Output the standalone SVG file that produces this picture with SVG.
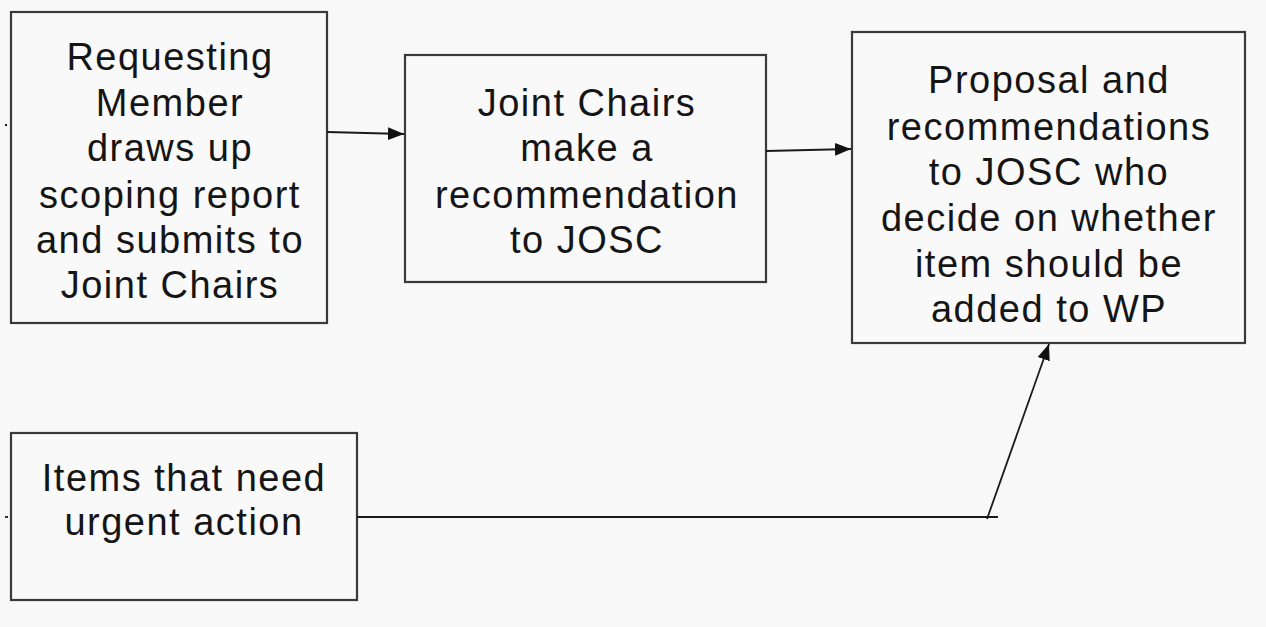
<svg xmlns="http://www.w3.org/2000/svg" width="1266" height="627" viewBox="0 0 1266 627">
<style>
.box{fill:#f9f9f9;stroke:#3a3a3a;stroke-width:2.2}
.t{font-family:"Liberation Sans",Arial,sans-serif;font-size:38px;letter-spacing:1.5px;fill:#151515;text-anchor:middle}
.c{stroke:#1a1a1a;stroke-width:1.8;fill:none}
</style>
<defs>
<marker id="ah" viewBox="0 0 10 10" refX="10" refY="5" markerWidth="16" markerHeight="16" markerUnits="userSpaceOnUse" orient="auto">
<path d="M0,1 L10,5 L0,9 Z" fill="#111"/>
</marker>
</defs>
<rect width="1266" height="627" fill="#f8f8f8"/>
<g id="n1">
<rect class="box" x="11" y="12" width="316" height="311"/>
<text class="t" x="170" y="70">Requesting</text>
<text class="t" x="170" y="116">Member</text>
<text class="t" x="170" y="161">draws up</text>
<text class="t" x="170" y="208">scoping report</text>
<text class="t" x="170" y="253">and submits to</text>
<text class="t" x="170" y="298">Joint Chairs</text>
</g>
<g id="n2">
<rect class="box" x="405" y="55" width="361" height="227"/>
<text class="t" x="587" y="116">Joint Chairs</text>
<text class="t" x="587" y="161">make a</text>
<text class="t" x="587" y="208">recommendation</text>
<text class="t" x="587" y="253">to JOSC</text>
</g>
<g id="n3">
<rect class="box" x="852" y="32" width="393" height="311"/>
<text class="t" x="1049" y="93">Proposal and</text>
<text class="t" x="1049" y="140">recommendations</text>
<text class="t" x="1049" y="185">to JOSC who</text>
<text class="t" x="1049" y="231">decide on whether</text>
<text class="t" x="1049" y="277">item should be</text>
<text class="t" x="1049" y="322">added to WP</text>
</g>
<g id="n4">
<rect class="box" x="11" y="433" width="346" height="167"/>
<text class="t" x="184" y="491">Items that need</text>
<text class="t" x="184" y="535">urgent action</text>
</g>
<g id="connectors">
<line class="c" x1="327" y1="132" x2="404" y2="134" marker-end="url(#ah)"/>
<line class="c" x1="766" y1="151" x2="851" y2="149" marker-end="url(#ah)"/>
<polyline class="c" points="357,517 998,517"/>
<line class="c" x1="987" y1="519" x2="1049" y2="344" marker-end="url(#ah)"/>
<line class="c" x1="5" y1="125" x2="7" y2="125"/>
<line class="c" x1="5" y1="517" x2="8" y2="517"/>
</g>
</svg>
